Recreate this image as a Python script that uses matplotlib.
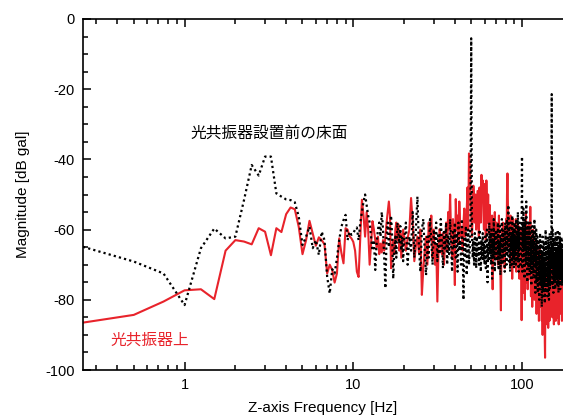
import numpy as np
import matplotlib
matplotlib.use("Agg")
import matplotlib.pyplot as plt
from matplotlib.ticker import FixedLocator, LogLocator, NullFormatter, MultipleLocator

plt.rcParams['font.family'] = ['Liberation Sans', 'Noto Sans CJK JP', 'DejaVu Sans']

# ---- data (0.25 Hz resolution up to 20 Hz, 0.5 Hz above) ----
freq_low = np.arange(1, 81) * 0.25          # 0.25 .. 20.0 Hz
freq_high = 20.0 + np.arange(1, 311) * 0.5  # 20.5 .. 175 Hz

top_low = [-86.5, -84.3, -80.5, -77.3, -77.0, -79.8, -66.0, -63.0, -63.4, -64.2,
           -59.6, -60.6, -67.3, -59.6, -60.7, -55.6, -53.7, -54.2, -59.2, -67.0,
           -63.0, -57.5, -61.1, -64.6, -62.2, -63.0, -64.2, -72.5, -70.0, -71.5,
           -75.1, -72.5, -62.5, -66.6, -69.6, -59.6, -60.0, -61.9, -62.5, -63.5,
           -66, -72, -73.5, -62, -51.5, -56, -62, -55, -60, -70,
           -64, -57.6, -60, -63, -65, -62, -67, -64, -66.5, -63,
           -66, -62, -58, -55, -52, -56, -71, -66, -63, -67,
           -60, -58, -63, -58.5, -66, -61, -68, -64, -60, -62]

top_high = [
    -66, -62.5, -60, -51, -58, -69, -64.7, -62, -66.6, -60, -78.6, -71.3, -66, -62, -70, -58, -63, -56, -68, -60,
    -70, -64, -80.5, -66, -59.9, -63, -67, -61, -70, -64, -58, -66, -55, -60, -50, -62, -68, -57, -64, -75.8,
    -51.3, -60, -56, -64, -52, -58.2, -62, -60, -66, -58, -54, -62, -60, -55, -48, -60, -38.3, -41.2, -50, -55,
    -62, -56, -47.5, -52, -58, -50, -60, -54, -49, -56, -62, -48, -53, -58, -44.4, -50, -46, -55, -60, -47,
    -52, -63, -46, -55, -58, -50, -61, -57, -53, -66, -59, -62, -56, -77, -60, -57, -64, -55, -68, -62,
    -58, -65, -60, -70, -63, -56, -67, -62, -72, -83, -66, -60, -64, -58, -69, -61, -65, -71, -59, -63,
    -57, -66, -50, -44, -52, -62, -58, -65, -60, -70, -56, -63, -68, -59, -74, -61, -57, -66, -62, -70,
    -60, -67, -64, -57, -72, -62, -58, -66, -70, -63, -59, -68, -74, -61, -65, -72, -60, -67, -85.8, -64,
    -70, -62, -78, -66, -58, -73, -64, -80, -61, -69, -55, -75, -63, -70, -59, -77, -66, -60, -72, -65,
    -58, -74, -63, -53.5, -68, -79, -62, -70, -66, -82, -64, -72, -60, -76, -68, -63, -80, -70, -65, -75,
    -68, -78, -64, -84, -72, -66, -76, -70, -80, -67, -74, -86, -69, -77, -65, -82, -71, -75, -68, -79,
    -73, -86, -70, -78, -90, -74, -81, -72, -88, -76, -83, -70, -92, -96.5, -80, -75, -87, -73, -84, -78,
    -71, -85, -76, -80, -69, -88, -74, -78, -82, -70, -86, -75, -68, -80, -73, -84, -77, -66, -79, -72,
    -80, -74, -85, -70, -78, -83, -72, -76, -87, -69, -81, -75, -71, -84, -77, -73, -86, -70, -79, -82,
    -74, -80, -68, -85, -76, -72, -83, -70, -78, -87, -73, -81, -66, -79, -75, -84, -71, -77, -82, -69,
    -76, -83, -72, -80, -86, -74, -78, -70, -82, -75]

floor_low = [-64.9, -69.1, -72.5, -81.5, -65.3, -59.7, -62.5, -62.0, -51.6, -41.6,
             -44.6, -39.2, -39.2, -49.7, -50.6, -51.4, -51.6, -52.2, -56.3, -64.4,
             -62.0, -59.2, -65.3, -63.0, -67.2, -60.6, -63.0, -73.4, -78.2, -71.3,
             -72.5, -68.2, -63.0, -59.2, -57.3, -55.8, -63.0, -60.6, -61.5, -61.0,
             -60, -59.4, -63, -58, -55, -52, -50, -53, -56, -58,
             -62, -66, -63, -71.5, -64, -60, -58, -62, -55, -60,
             -68, -76.7, -62, -58, -65, -60, -56, -62, -74, -66,
             -62, -68, -58, -61, -64, -59, -66, -62, -69, -63]

floor_high = [
    -58, -70, -62, -66, -55, -68, -60, -50.6, -65, -72, -60, -57, -66, -73, -62, -68, -57, -63, -70, -60,
    -64, -58, -69, -61, -67, -57, -63, -71, -60, -66, -58, -70, -62, -67, -57, -64, -72, -60, -65, -58,
    -68, -61, -72, -58, -66, -63, -70, -57, -65, -80, -62, -68, -59, -73, -64, -60, -70, -66, -58, -5.5,
    -60, -68, -63, -70, -61, -66, -71, -62, -67, -64, -70, -60, -66, -72, -63, -68, -61, -69, -64, -70,
    -62, -71, -66, -60, -75, -64, -69, -58, -67, -62, -70, -60, -74, -63, -68, -57, -65, -72, -61, -67,
    -60, -69, -63, -58, -71, -64, -67, -59, -73, -62, -66, -57, -70, -64, -60, -68, -62, -72, -58, -66,
    -63, -70, -57, -67, -61, -53, -69, -60, -65, -72, -58, -66, -62, -70, -56, -64, -68, -60, -71, -63,
    -58, -67, -62, -70, -57, -65, -61, -69, -55, -64, -72, -60, -66, -58, -63, -70, -61, -62, -57, -39.2,
    -72, -58, -65, -54, -68, -61, -74, -57, -66, -63, -70, -52, -67, -60, -75, -62, -69, -58, -71, -64,
    -60, -73, -65, -58, -70, -62, -76, -64, -68, -59, -72, -66, -61, -74, -63, -69, -57, -71, -65, -78,
    -64, -70, -60, -75, -66, -72, -62, -78, -68, -63, -74, -67, -80, -65, -71, -61, -76, -69, -73, -64,
    -70, -82, -66, -74, -62, -77, -68, -72, -79, -64, -75, -70, -81, -67, -73, -60, -76, -69, -78, -65,
    -72, -66, -79, -62, -74, -70, -76, -64, -80, -68, -73, -61, -77, -69, -75, -66, -71, -63, -60, -21.4,
    -70, -64, -76, -60, -73, -67, -78, -62, -71, -69, -75, -63, -72, -66, -77, -61, -74, -68, -70, -65,
    -72, -62, -76, -66, -70, -60, -74, -68, -78, -64, -71, -67, -75, -61, -73, -69, -77, -63, -70, -66,
    -74, -62, -70, -67, -76, -64, -72, -68, -75, -63]

freq = np.concatenate([freq_low, freq_high])
top = np.array(top_low + top_high)
floor = np.array(floor_low + floor_high)

label_floor = "光共振器設置前の床面"
label_top = "光共振器上"
x_ticks = [1, 10, 100]
x_ticklabels = ["1", "10", "100"]
y_ticks = [0, -20, -40, -60, -80, -100]
y_ticklabels = ["0", "-20", "-40", "-60", "-80", "-100"]

# ---- figure ----
fig = plt.figure(figsize=(5.63, 4.18), dpi=100)
ax = fig.add_axes([83 / 563, 1 - 370 / 418, (563 - 83) / 563, (370 - 19) / 418])

red = "#e8232b"
ax.plot(freq, top, color=red, lw=1.5, zorder=2)
ax.plot(freq, floor, color="black", lw=1.6, linestyle=(0, (1, 1.4)), zorder=3)

ax.set_xscale("log")
ax.set_xlim(0.25, 175)
ax.set_ylim(-100, 0)

ax.xaxis.set_major_locator(FixedLocator(x_ticks))
ax.set_xticklabels(x_ticklabels)
ax.xaxis.set_minor_locator(LogLocator(base=10, subs=np.arange(2, 10)))
ax.xaxis.set_minor_formatter(NullFormatter())
ax.set_yticks(y_ticks)
ax.set_yticklabels(y_ticklabels)
ax.yaxis.set_minor_locator(MultipleLocator(5))

ax.spines['right'].set_visible(False)
for s in ['left', 'top', 'bottom']:
    ax.spines[s].set_linewidth(1.2)

ax.tick_params(which='both', direction='in', top=True, right=False, width=1.1,
               labelsize=10.5, pad=6)
ax.tick_params(which='major', length=6)
ax.tick_params(which='minor', length=3.5)

ax.set_xlabel("Z-axis Frequency [Hz]", fontsize=11, labelpad=6.5)
ax.set_ylabel("Magnitude [dB gal]", fontsize=11, labelpad=11)

ax.text(0.3875, 0.675, label_floor, transform=ax.transAxes, fontsize=11.3,
        color="black", ha="center", va="center",
        family=['Noto Sans CJK JP', 'DejaVu Sans'])
ax.text(0.14, 0.085, label_top, transform=ax.transAxes, fontsize=11.3,
        color=red, ha="center", va="center",
        family=['Noto Sans CJK JP', 'DejaVu Sans'])

fig.savefig("out.png", dpi=100)
